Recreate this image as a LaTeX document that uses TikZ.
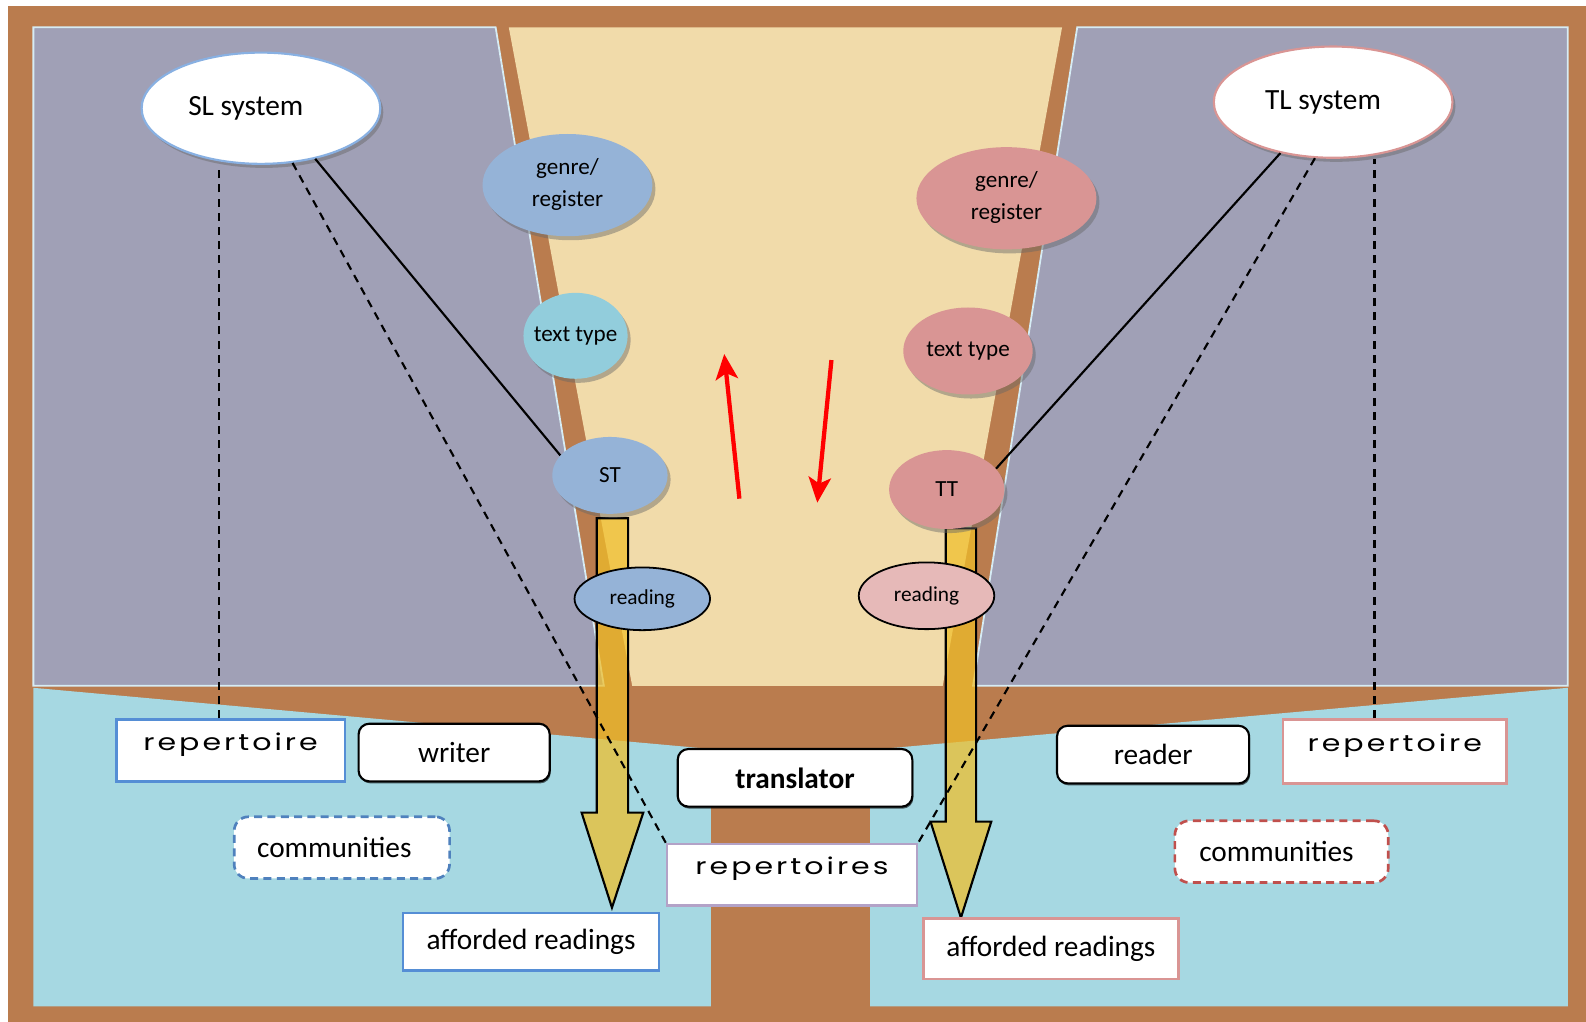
\documentclass[tikz,border=0pt]{standalone}
\usepackage{fontspec}
\usepackage{graphicx}
\setmainfont{Carlito}
\newfontfamily\repfont{Poppins}[LetterSpace=10]
\usetikzlibrary{shapes.geometric,shadows,arrows.meta,calc}

\definecolor{soil}{RGB}{186,124,78}
\definecolor{slate}{RGB}{160,160,182}
\definecolor{sand}{RGB}{241,219,170}
\definecolor{water}{RGB}{166,216,226}
\definecolor{rim}{RGB}{214,236,244}
\definecolor{slblue}{RGB}{149,179,215}
\definecolor{slcyan}{RGB}{146,205,220}
\definecolor{tlpink}{RGB}{217,149,148}
\definecolor{tlpale}{RGB}{230,185,184}
\definecolor{boxblue}{RGB}{85,142,213}
\definecolor{boxlilac}{RGB}{179,162,199}
\definecolor{dashblue}{RGB}{79,129,189}
\definecolor{dashred}{RGB}{192,80,77}
\definecolor{gold}{RGB}{240,190,40}

% keeps the ellipse size set by the style, not by the text
\newcommand\nowidth[1]{\makebox[0pt]{#1}}
% wide lettering for the repertoire boxes
\newcommand\wide[1]{\scalebox{1.3}[1]{#1}}

\pgfdeclarelayer{ground}
\pgfdeclarelayer{flow}
\pgfsetlayers{ground,flow,main}

\tikzset{
  shade/.style={drop shadow={shadow xshift=.06cm, shadow yshift=-.08cm, opacity=.45, fill=black!60}},
  system/.style={ellipse, fill=white, draw=#1, line width=1.2pt, minimum width=4.72cm,
    minimum height=2.2cm, font=\fontsize{16.5}{19}\selectfont, shade},
  blob/.style={ellipse, fill=#1, font=\fontsize{13}{16}\selectfont, shade},
  readblob/.style={ellipse, fill=#1, draw=black, line width=1pt, minimum width=2.68cm,
    font=\fontsize{12}{14}\selectfont},
  card/.style={rectangle, fill=white, draw=#1, line width=1.5pt, font=\fontsize{16.5}{19}\selectfont},
  repbox/.style={card=#1, font=\repfont\fontsize{13}{16}\selectfont, text height=.75em, text depth=.75em},
  role/.style={rectangle, rounded corners=6pt, fill=white, draw=black, line width=1.2pt,
    minimum height=1.14cm, font=\fontsize{16.5}{19}\selectfont,
    drop shadow={shadow xshift=.02cm, shadow yshift=-.04cm, opacity=.6, fill=black}},
  commbox/.style={rectangle, rounded corners=8pt, fill=white, draw=#1, line width=1.5pt,
    dash pattern=on 4.5pt off 3pt, minimum height=1.22cm, font=\fontsize{16.5}{19}\selectfont},
  link/.style={line width=1.2pt},
  hint/.style={line width=1.2pt, dash pattern=on 4.5pt off 3.5pt},
  redarrow/.style={red, line width=2.4pt, -{Stealth[length=0.5cm, width=0.44cm, inset=0.12cm]}},
  readarrow/.style={draw=black, line width=1.2pt, fill=gold, fill opacity=.72}
}

\begin{document}
\begin{tikzpicture}[x=0.02cm, y=-0.02cm]
\useasboundingbox (0,0) rectangle (1568,1010);

\begin{pgfonlayer}{ground}
  \fill[white] (0,0) rectangle (1568,1010);
  \fill[soil] (8,6) rectangle (1568,1010);
  % source and target panels, sand wedge between
  \filldraw[fill=slate, draw=rim, line width=1pt] (33,27) -- (490,27) -- (597,678) -- (33,678) -- cycle;
  \filldraw[fill=slate, draw=rim, line width=1pt] (1065,27) -- (1550,27) -- (1550,678) -- (962,678) -- cycle;
  \fill[sand] (503,27) -- (1050,27) -- (932,678) -- (625,678) -- cycle;
  % water and the trunk under the translator
  \fill[water] (33,680) -- (786,748) -- (1550,680) -- (1550,995) -- (33,995) -- cycle;
  \fill[soil] (703,798) rectangle (860,1010);
\end{pgfonlayer}

% systems
\node[system=boxblue!70] (SL) at (258,107) {\hspace*{-0.6cm}SL system};
\node[system=tlpink] (TL) at (1318,101) {\hspace*{-0.4cm}TL system};

% left column
\node[blob=slblue, minimum width=3.36cm, minimum height=2cm] (genreL) at (561,183)
  {\nowidth{\begin{tabular}{@{}c@{}}genre/\\[2pt]register\end{tabular}}};
\node[blob=slcyan, minimum width=2.06cm, minimum height=1.7cm] (typeL) at (569,332) {\nowidth{text type}};
\node[blob=slblue, minimum width=2.28cm, minimum height=1.52cm] (ST) at (603,470) {ST};

% right column
\node[blob=tlpink, minimum width=3.56cm, minimum height=2cm] (genreR) at (995,196)
  {\nowidth{\begin{tabular}{@{}c@{}}genre/\\[2pt]register\end{tabular}}};
\node[blob=tlpink, minimum width=2.56cm, minimum height=1.72cm] (typeR) at (957,347) {\nowidth{text type}};
\node[blob=tlpink, minimum width=2.28cm, minimum height=1.56cm] (TT) at (936,484) {TT};

% reading arrows
\begin{pgfonlayer}{flow}
  \filldraw[readarrow] (ST.south) ++(-13,4) -- ++(31,0) -- ++(0,291) -- ++(15,0)
    -- ++(-31,94) -- ++(-30,-94) -- ++(15,0) -- cycle;
  \filldraw[readarrow] (TT.south) ++(-1,-1) -- ++(30,0) -- ++(0,290) -- ++(15,0)
    -- ++(-30,95) -- ++(-30,-95) -- ++(15,0) -- cycle;
\end{pgfonlayer}

\node[readblob=slblue, minimum height=1.24cm] (readL) at (635,592) {reading};
\node[readblob=tlpale, minimum height=1.32cm] (readR) at (916,589) {reading};

% boxes below
\node[repbox=boxblue, minimum width=4.52cm, minimum height=1.22cm] (repL) at (228,742) {\wide{repertoire}};
\node[role, minimum width=3.78cm] (writer) at (449,744) {writer};
\node[commbox=dashblue, minimum width=4.26cm] (commL) at (338,838) {\hspace*{-0.3cm}communities};
\node[card=boxblue, minimum width=5.06cm, minimum height=1.14cm] (affL) at (525,931) {afforded readings};

\node[role, minimum width=4.64cm, font=\fontsize{16.5}{19}\selectfont\bfseries] (transl) at (786,769) {translator};
\node[repbox=boxlilac, minimum width=4.94cm, minimum height=1.22cm] (reps) at (783,865) {\wide{repertoires}};

\node[role, minimum width=3.8cm] (reader) at (1140,746) {reader};
\node[repbox=tlpink, minimum width=4.42cm, minimum height=1.26cm] (repR) at (1379,743) {\wide{repertoire}};
\node[commbox=dashred, minimum width=4.22cm] (commR) at (1267,842) {\hspace*{-0.2cm}communities};
\node[card=tlpink, minimum width=5.04cm, minimum height=1.2cm] (affR) at (1039,938) {afforded readings};

% links from the systems
\draw[link] (SL.-43) -- (ST.158);
\draw[hint] (SL.-60) -- (reps.north west);
\coordinate (repLtop) at ($(repL.north west)!0.45!(repL.north east)$);
\draw[hint] (repLtop) -- (repLtop |- SL.south);

\draw[link] (TL.-136) -- (TT.23);
\draw[hint] (TL.-108) -- (reps.north east);
\coordinate (repRtop) at ($(repR.north west)!0.41!(repR.north east)$);
\draw[hint] (repRtop) -- (repRtop |- TL.south);

% the two directions
\coordinate (up0) at (731,493);
\coordinate (up1) at (716,350);
\coordinate (dn0) at (822,356);
\coordinate (dn1) at (808,497);
\draw[redarrow] (up0) -- (up1);
\draw[redarrow] (dn0) -- (dn1);
\end{tikzpicture}
\end{document}
